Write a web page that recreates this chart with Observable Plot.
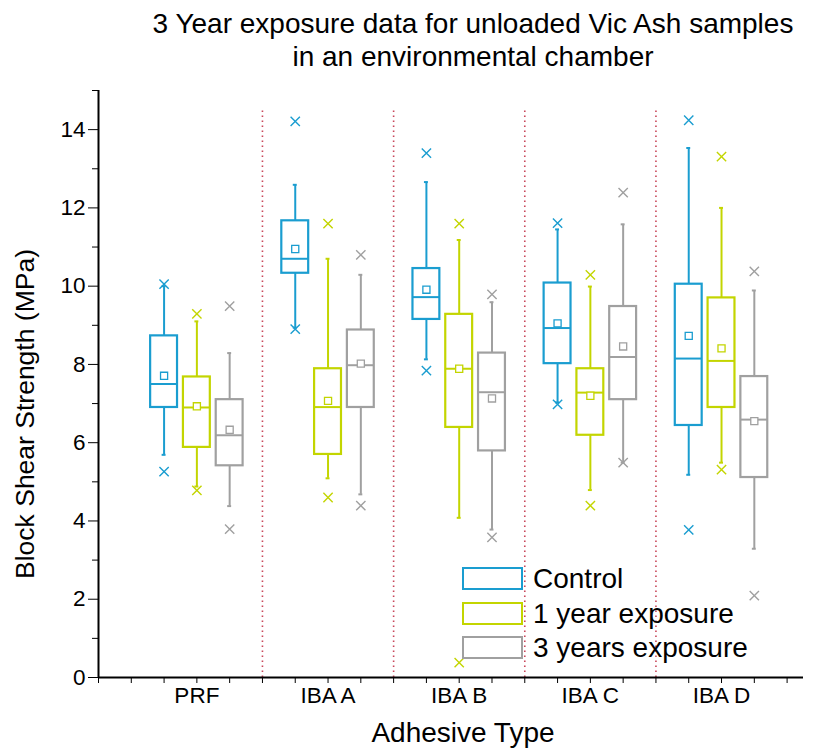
<!DOCTYPE html>
<html>
<head>
<meta charset="utf-8">
<script src="https://cdn.jsdelivr.net/npm/d3@7"></script>
<script src="https://cdn.jsdelivr.net/npm/@observablehq/plot@0.6"></script>
<style>
  html, body { margin: 0; padding: 0; background: #fff; }
  #wrap { position: relative; width: 814px; height: 749px; font-family: "Liberation Sans", Arial, sans-serif; color: #000; }
  .t { position: absolute; white-space: nowrap; line-height: 1; }
  .lg { position: absolute; box-sizing: border-box; border-width: 2.5px; border-style: solid; background: transparent; }
</style>
</head>
<body>
<div id="wrap"></div>
<script>
const groups = ["PRF", "IBA A", "IBA B", "IBA C", "IBA D"];
const seriesNames = ["Control", "1 year exposure", "3 years exposure"];
const seriesColors = ["#1a9dd0", "#c3d500", "#a0a0a0"];
const yTicks = [0, 2, 4, 6, 8, 10, 12, 14];
const separators = [5, 9, 13, 17];
// each row (one per group): [min, whiskerLow, Q1, median, mean, Q3, whiskerHigh, max]
const control = [
  [5.26, 5.69, 6.90, 7.50, 7.71, 8.73, 10.00, 10.05],
  [8.90, 8.94, 10.33, 10.70, 10.95, 11.67, 12.59, 14.21],
  [7.84, 8.13, 9.15, 9.72, 9.91, 10.45, 12.66, 13.40],
  [6.98, 7.03, 8.02, 8.93, 9.05, 10.08, 11.45, 11.61],
  [3.77, 5.18, 6.44, 8.15, 8.73, 10.05, 13.53, 14.24]
];
const oneYear = [
  [4.78, 4.88, 5.88, 6.90, 6.93, 7.68, 9.10, 9.29],
  [4.60, 5.09, 5.70, 6.91, 7.07, 7.89, 10.70, 11.60],
  [0.38, 4.08, 6.39, 7.89, 7.89, 9.28, 11.18, 11.60],
  [4.39, 4.79, 6.19, 7.28, 7.20, 7.89, 9.99, 10.29],
  [5.31, 5.49, 6.90, 8.09, 8.41, 9.70, 12.00, 13.31]
];
const threeYears = [
  [3.79, 4.38, 5.41, 6.19, 6.33, 7.10, 8.29, 9.49],
  [4.39, 4.68, 6.90, 7.98, 8.02, 8.88, 10.29, 10.80],
  [3.58, 3.78, 5.79, 7.29, 7.13, 8.29, 9.59, 9.79],
  [5.49, 5.49, 7.10, 8.19, 8.46, 9.48, 11.58, 12.39],
  [2.09, 3.29, 5.11, 6.59, 6.55, 7.69, 9.89, 10.38]
];

const allSeries = [control, oneYear, threeYears];
const rows = [];
allSeries.forEach((ser, si) => {
  ser.forEach((v, gi) => {
    rows.push({
      group: groups[gi], series: seriesNames[si], color: seriesColors[si],
      pos: 4 * gi + 2 + si,
      min: v[0], lo: v[1], q1: v[2], median: v[3], mean: v[4], q3: v[5], hi: v[6], max: v[7]
    });
  });
});
const extremes = rows.flatMap(d => [{pos: d.pos, v: d.min, color: d.color}, {pos: d.pos, v: d.max, color: d.color}]);
const labelAt = new Map(groups.map((g, i) => [4 * i + 3, g]));

const half = 0.41, cap = 0.06;
const chart = Plot.plot({
  width: 814,
  height: 749,
  marginTop: 90,
  marginBottom: 72,
  marginLeft: 98,
  marginRight: 11,
  style: {fontFamily: "Liberation Sans, Arial, sans-serif", color: "#000", background: "transparent"},
  x: {domain: [0, 21.5]},
  y: {domain: [0, 15]},
  marks: [
    Plot.ruleX(separators, {y1: 0, y2: 14.5, stroke: "#c8475a", strokeWidth: 1.6, strokeDasharray: "1.6,3.4"}),
    Plot.ruleX(rows, {x: "pos", y1: "lo", y2: "q1", stroke: "color", strokeWidth: 2}),
    Plot.ruleX(rows, {x: "pos", y1: "q3", y2: "hi", stroke: "color", strokeWidth: 2}),
    Plot.ruleY(rows, {y: "lo", x1: d => d.pos - cap, x2: d => d.pos + cap, stroke: "color", strokeWidth: 2}),
    Plot.ruleY(rows, {y: "hi", x1: d => d.pos - cap, x2: d => d.pos + cap, stroke: "color", strokeWidth: 2}),
    Plot.rect(rows, {x1: d => d.pos - half, x2: d => d.pos + half, y1: "q1", y2: "q3", fill: "none", stroke: "color", strokeWidth: 2.2}),
    Plot.ruleY(rows, {y: "median", x1: d => d.pos - half, x2: d => d.pos + half, stroke: "color", strokeWidth: 2}),
    Plot.dot(rows, {x: "pos", y: "mean", symbol: "square", r: 4, stroke: "color", fill: "white", strokeWidth: 1.3}),
    Plot.dot(extremes, {x: "pos", y: "v", symbol: "times", r: 4.3, stroke: "color", strokeWidth: 1.4}),
    Plot.axisY({ticks: yTicks, tickSize: 10, tickPadding: 3, fontSize: 22.5, label: null, tickFormat: d => String(d)}),
    Plot.axisY({ticks: d3.range(1, 16, 2), tickSize: 6, tickFormat: () => "", label: null}),
    Plot.axisX({ticks: d3.range(0, 22), tickSize: 6, tickPadding: 4, fontSize: 22.5, label: null, tickFormat: d => labelAt.get(d) ?? ""}),
    Plot.ruleX([0], {y1: 0, y2: 15, stroke: "#000", strokeWidth: 2}),
    Plot.ruleY([0], {x1: 0, x2: 21.5, stroke: "#000", strokeWidth: 2})
  ]
});
chart.style.position = "absolute";
chart.style.left = "0px";
chart.style.top = "0px";
chart.querySelectorAll("text").forEach(t => t.setAttribute("fill", "#000"));

const wrap = document.getElementById("wrap");
wrap.appendChild(chart);

function addText(txt, css) {
  const d = document.createElement("div");
  d.className = "t";
  d.textContent = txt;
  Object.assign(d.style, css);
  wrap.appendChild(d);
  return d;
}
addText("3 Year exposure data for unloaded Vic Ash samples", {left: "473px", top: "10px", fontSize: "28px", transform: "translateX(-50%)"});
addText("in an environmental chamber", {left: "473px", top: "43px", fontSize: "28px", transform: "translateX(-50%)"});
addText("Adhesive Type", {left: "463px", top: "719px", fontSize: "28px", transform: "translateX(-50%)"});
addText("Block Shear Strength (MPa)", {left: "25px", top: "414px", fontSize: "26.5px", transform: "translate(-50%,-50%) rotate(-90deg)"});

seriesNames.forEach((name, i) => {
  const top = 567 + i * 34.5;
  const b = document.createElement("div");
  b.className = "lg";
  Object.assign(b.style, {left: "462px", top: top + "px", width: "61px", height: "23px", borderColor: seriesColors[i]});
  wrap.appendChild(b);
  addText(name, {left: "533px", top: (top - 2) + "px", fontSize: "28px"});
});
</script>
</body>
</html>
